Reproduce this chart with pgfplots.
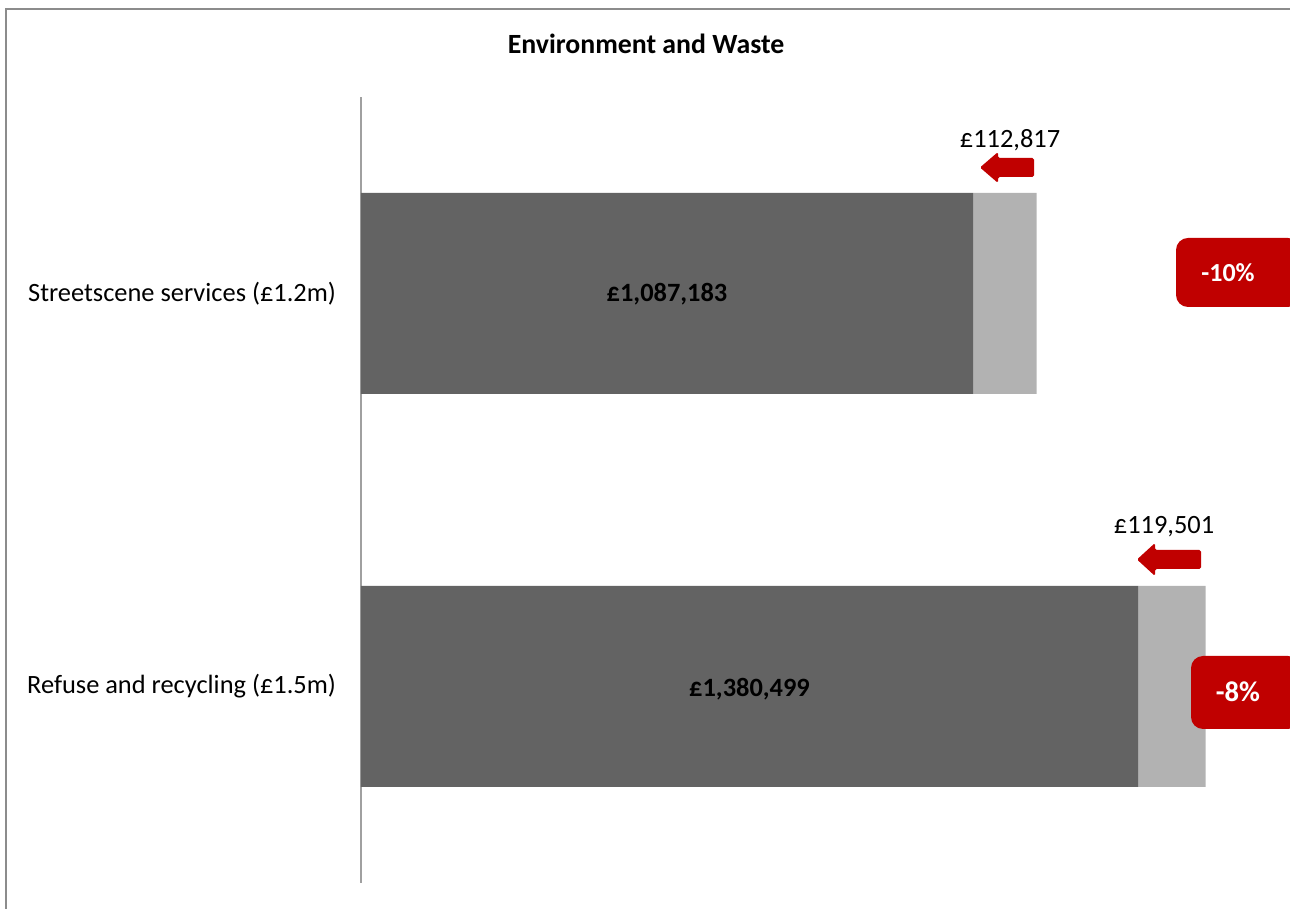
\documentclass[border=0pt]{standalone}
\usepackage{pgfplots}
\pgfplotsset{compat=1.18}
\usepackage{fontspec}
\setmainfont{Carlito}
\definecolor{darkbar}{HTML}{636363}
\definecolor{lightbar}{HTML}{B2B2B2}
\definecolor{callred}{HTML}{C00000}
\definecolor{framegray}{HTML}{8C8C8C}
\definecolor{axisgray}{HTML}{A0A0A0}
\begin{document}
\begin{tikzpicture}
\path[use as bounding box] (0,0) rectangle (645pt,454.5pt);
\begin{axis}[
  at={(180.5pt,13pt)}, anchor=south west,
  scale only axis,
  width=464.5pt, height=393pt,
  xbar stacked,
  bar width=100.5pt,
  xmin=0, xmax=1650000,
  ymin=-0.5, ymax=1.5,
  axis x line=none,
  axis y line*=left,
  axis line style={axisgray, line width=1pt, -},
  ytick={0,1},
  yticklabels={Refuse and recycling (£1.5m), Streetscene services (£1.2m)},
  major tick length=0pt,
  yticklabel style={font=\fontsize{13.2}{15}\selectfont, xshift=-9pt},
  clip=false,
]
\addplot[fill=darkbar, draw=none] coordinates {(1380499,0) (1087183,1)};
\addplot[fill=lightbar, draw=none] coordinates {(119501,0) (112817,1)};
\end{axis}
\begin{scope}[x=0.5pt, y=-0.5pt, shift={(0pt,454.5pt)}]
  % frame
  \draw[framegray, line width=1pt] (6,930) -- (6,9) -- (1310,9);
  % title
  \node[font=\fontsize{13.9}{16}\selectfont\bfseries, anchor=base] at (646,54) {Environment and Waste};
  % labels inside bars
  \node[font=\fontsize{13.2}{15}\selectfont\bfseries, anchor=base] at (667,302) {£1,087,183};
  \node[font=\fontsize{13.2}{15}\selectfont\bfseries, anchor=base] at (749.5,697) {£1,380,499};
  % value labels
  \node[font=\fontsize{13.2}{15}\selectfont, anchor=base] at (1010,148) {£112,817};
  \node[font=\fontsize{13.2}{15}\selectfont, anchor=base] at (1164,534) {£119,501};
  % arrows
  \fill[callred, rounded corners=0.8pt] (980,167.5) -- ++(18,-15.5) -- ++(0,6) -- ++(36,0) -- ++(0,19) -- ++(-36,0) -- ++(0,6) -- cycle;
  \fill[callred, rounded corners=0.8pt] (1137,559.5) -- ++(18,-16.5) -- ++(0,7) -- ++(46,0) -- ++(0,19) -- ++(-46,0) -- ++(0,7) -- cycle;
  % callouts
  \fill[callred, rounded corners=6pt] (1176,238) rectangle (1300,307);
  \node[white, font=\fontsize{13}{15}\selectfont\bfseries] at (1228,273) {-10\%};
  \fill[callred, rounded corners=6pt] (1191,656) rectangle (1300,729);
  \node[white, font=\fontsize{14.3}{16}\selectfont\bfseries] at (1238,692) {-8\%};
\end{scope}
\end{tikzpicture}
\end{document}
